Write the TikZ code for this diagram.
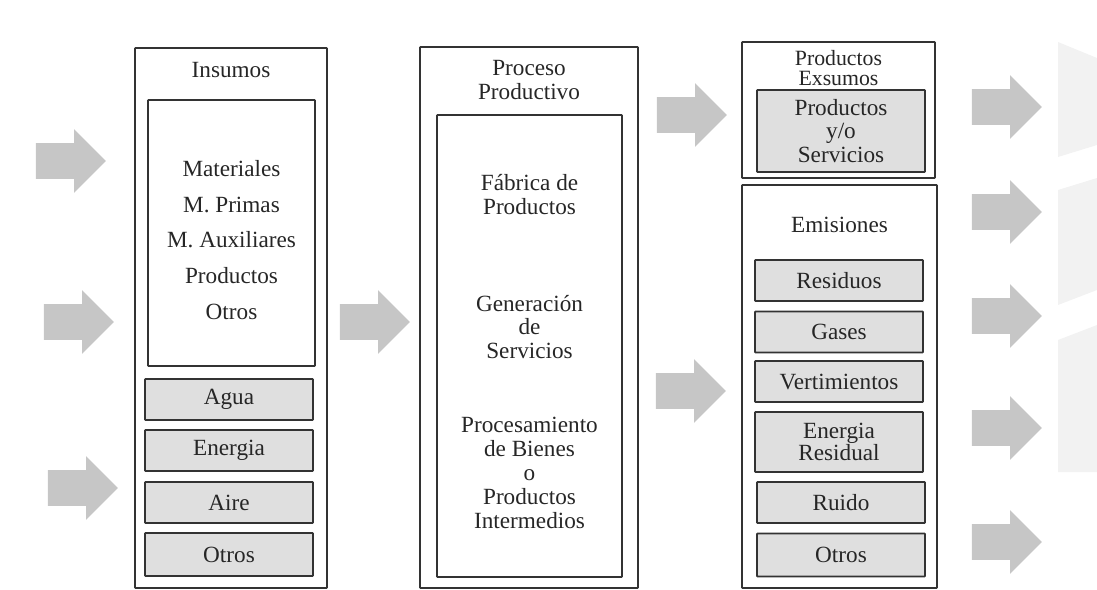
\documentclass[tikz,border=0pt]{standalone}
\usepackage{fontspec}
\setmainfont{Liberation Serif}
\usetikzlibrary{shapes.arrows}
\tikzset{
  marco/.style={draw=black!80, line width=1.3pt, inner sep=0pt, rounded corners=0.5pt},
  gris/.style={marco, fill=gray!25, text=black!85, align=center},
  texto/.style={align=center, text=black!85},
  tam/.style 2 args={minimum width=#1*0.025cm, minimum height=#2*0.025cm},
  flecha/.style={single arrow, draw=none, fill=gray!45, inner xsep=0pt, inner ysep=0.44cm,
    minimum height=1.75cm, single arrow head extend=0.35cm},
  marca/.style={fill=black!5, draw=none}
}
\begin{document}
\begin{tikzpicture}[x=0.025cm, y=-0.025cm, font=\fontsize{16.5}{17}\selectfont]
\useasboundingbox (0,0) rectangle (1097,590);
% fondo
\fill[marca] (1058,42) -- (1097,58) -- (1097,145) -- (1058,157) -- cycle;
\fill[marca] (1058,190) -- (1097,178) -- (1097,290) -- (1058,305) -- cycle;
\fill[marca] (1058,340) -- (1097,325) -- (1097,472) -- (1058,472) -- cycle;
%
% entradas
\node[flecha] (entrada1) at (62,161) {};
\node[flecha] (entrada2) at (70,322) {};
\node[flecha] (entrada3) at (74,488) {};
%
% insumos
\node[marco, tam={192}{540}] (insumos) at (231,318) {};
\node[texto] (insumostit) at (231,70) {Insumos};
\node[marco, tam={167}{266}] (materiales) at (231.5,233) {};
\node[texto, font=\fontsize{16.5}{25.5}\selectfont] (materialestxt) at (231.5,240)
  {Materiales\\M. Primas\\M. Auxiliares\\Productos\\Otros};
\node[gris, tam={168}{41}] (agua) at (229,399.5) {Agua};
\node[gris, tam={168}{41}] (energia) at (229,450.5) {Energia};
\node[gris, tam={168}{41}] (aire) at (229,502.5) {Aire};
\node[gris, tam={168}{43}] (otrosin) at (229,554.5) {Otros};
%
\node[flecha] (paso) at (366,322) {};
%
% proceso
\node[marco, tam={218}{541}] (proceso) at (529,317.5) {};
\node[texto] (procesotit) at (529,80) {Proceso\\Productivo};
\node[marco, tam={185}{462}] (fabrica) at (529.5,346) {};
\node[texto] (fabricatxt) at (529.5,195) {Fábrica de\\Productos};
\node[texto] (generaciontxt) at (529.5,327) {Generación\\de\\Servicios};
\node[texto] (procesamientotxt) at (529.5,473)
  {Procesamiento\\de Bienes\\o\\Productos\\Intermedios};
%
\node[flecha] (salida1) at (683,115) {};
\node[flecha] (salida2) at (682,391) {};
%
% exsumos
\node[marco, tam={193}{136}] (exsumos) at (838.5,110) {};
\node[texto, font=\fontsize{15.5}{14.5}\selectfont] (exsumostit) at (838.5,68) {Productos\\Exsumos};
\node[gris, tam={168}{82}] (servicios) at (841,131) {Productos\\y/o\\Servicios};
%
% emisiones
\node[marco, tam={195}{403}] (emisiones) at (839.5,386.5) {};
\node[texto] (emisionestit) at (839.5,225) {Emisiones};
\node[gris, tam={168}{41}] (residuos) at (839,280.5) {Residuos};
\node[gris, tam={168}{41}] (gases) at (839,332) {Gases};
\node[gris, tam={168}{41}] (vertimientos) at (839,381.5) {Vertimientos};
\node[gris, tam={168}{60}, font=\fontsize{16.5}{15}\selectfont] (residual) at (839,442) {Energia\\Residual};
\node[gris, tam={168}{41}] (ruido) at (841,502.5) {Ruido};
\node[gris, tam={168}{43}] (otrosout) at (841,555) {Otros};
%
% medio ambiente
\node[flecha] (ambiente1) at (998,107) {};
\node[flecha] (ambiente2) at (998,212) {};
\node[flecha] (ambiente3) at (998,316) {};
\node[flecha] (ambiente4) at (998,428) {};
\node[flecha] (ambiente5) at (998,542) {};
\end{tikzpicture}
\end{document}
